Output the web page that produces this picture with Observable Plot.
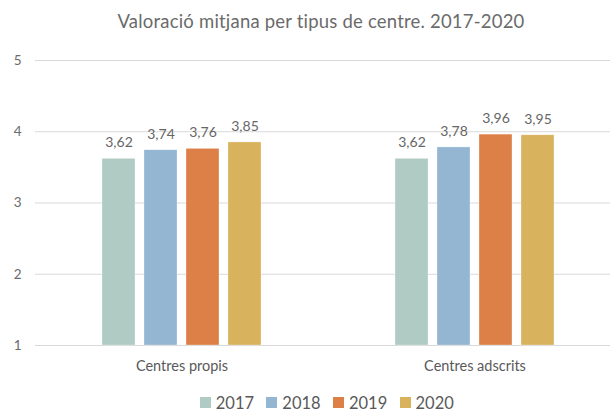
<!DOCTYPE html>
<html><head><meta charset="utf-8">
<script src="https://cdn.jsdelivr.net/npm/d3@7"></script>
<script src="https://cdn.jsdelivr.net/npm/@observablehq/plot@0.6"></script>
<style>
body{margin:0;background:#fff;font-family:Lato,"Open Sans",sans-serif;color:#595959;width:610px;height:412px;overflow:hidden;}
#title{height:40px;line-height:42px;text-align:center;font-size:18.5px;letter-spacing:0.2px;padding-left:32px;color:#6b6b6b;box-sizing:border-box;}
#legend{display:flex;justify-content:center;padding-left:56px;padding-top:4px;box-sizing:border-box;width:610px;}
#legend span{margin-right:0.75em !important;}
#legend svg{margin-right:0.3em !important;}
</style></head><body>
<div id="title">Valoració mitjana per tipus de centre. 2017-2020</div>
<div id="chart"></div>
<div id="legend"></div>
<script>
const categories = ["Centres propis", "Centres adscrits"];
const years = ["2017", "2018", "2019", "2020"];
const propis = [3.62, 3.74, 3.76, 3.85];
const adscrits = [3.62, 3.78, 3.96, 3.95];
const yTicks = [1, 2, 3, 4, 5];
const colors = ["#b0cbc3", "#94b6d3", "#dd8047", "#d8b25c"];

const series = {"Centres propis": propis, "Centres adscrits": adscrits};
const data = categories.flatMap(c => years.map((y, i) => ({category: c, year: y, value: series[c][i]})));
const fmt = v => v.toFixed(2).replace(".", ",");

const chart = Plot.plot({
  width: 610,
  height: 345,
  marginTop: 20,
  marginBottom: 40,
  marginLeft: 35,
  marginRight: -11,
  style: {fontFamily: "Lato, 'Open Sans', sans-serif", fontSize: "13px", color: "#595959", background: "#fff", overflow: "visible"},
  fx: {domain: categories, padding: 0, label: null},
  x: {domain: years, paddingInner: 0.22, paddingOuter: 1.575, axis: null},
  y: {domain: [1, 5], label: null},
  color: {domain: years, range: colors},
  marks: [
    Plot.gridY(yTicks, {stroke: "#d9d9d9", strokeOpacity: 1, strokeWidth: 1}),
    Plot.axisY(yTicks, {tickSize: 0, tickPadding: 14, tickFormat: d => String(d), fontSize: 13.5, fill: "#6b6b6b", label: null}),
    Plot.axisFx({anchor: "bottom", tickSize: 0, tickPadding: 15, fontSize: 14.5, fill: "#595959", label: null}),
    Plot.barY(data, {fx: "category", x: "year", y1: 1, y2: "value", fill: "year", stroke: "#fff", strokeWidth: 0.5, strokeOpacity: 0.6}),
    Plot.text(data, {fx: "category", x: "year", y: "value", text: d => fmt(d.value), dy: -16, fontSize: 14, fill: "#666"})
  ]
});
document.getElementById("chart").appendChild(chart);

const leg = Plot.legend({
  color: {domain: years, range: colors},
  legend: "swatches",
  swatchSize: 11,
  style: {fontFamily: "Lato, 'Open Sans', sans-serif", fontSize: "16.5px", color: "#595959", margin: "0"}
});
leg.style.justifyContent = "center";
leg.style.minHeight = "27px";
document.getElementById("legend").appendChild(leg);
</script>
</body></html>
